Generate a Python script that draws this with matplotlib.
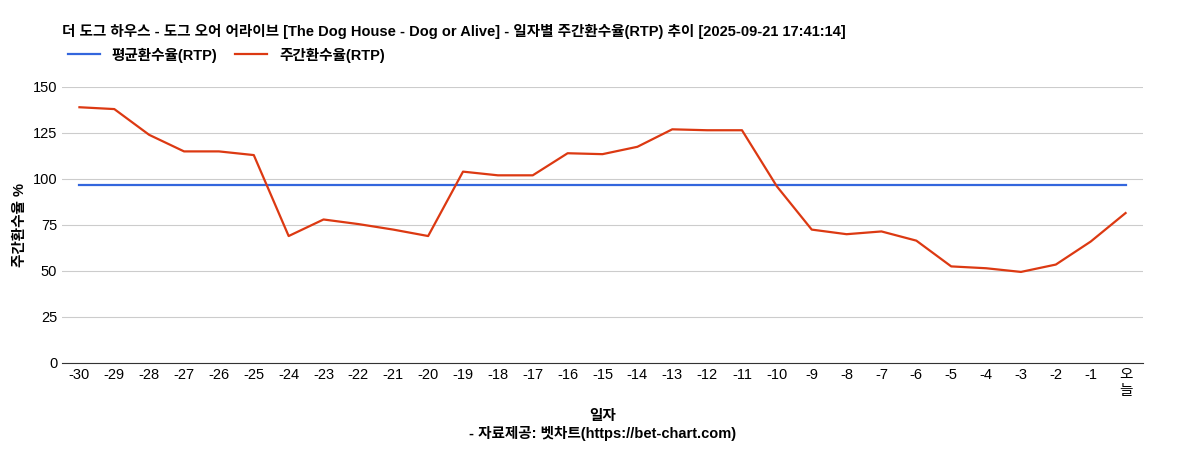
import matplotlib
matplotlib.use("Agg")
import matplotlib.pyplot as plt

plt.rcParams['font.family'] = ['Liberation Sans', 'Noto Sans CJK KR', 'DejaVu Sans']

labels = [str(i) for i in range(-30, 0)] + ["오\n늘"]
weekly = [139, 138, 124, 115, 115, 113, 69, 78, 75.5, 72.5, 69, 104, 102, 102, 114, 113.5,
          117.5, 127, 126.5, 126.5, 96, 72.5, 70, 71.5, 66.5, 52.5, 51.5, 49.5, 53.5, 66, 81.5]
avg = [96.5] * len(labels)

fig = plt.figure(figsize=(12.04, 4.5), dpi=100)
ax = fig.add_axes([62/1204, 1-363/450, (1143-62)/1204, (363-87)/450])
x = list(range(len(labels)))
ax.plot(x, avg, color='#3366dd', lw=1.6, label='평균환수율(RTP)')
ax.plot(x, weekly, color='#dc3912', lw=1.6, label='주간환수율(RTP)')
ax.set_xlim(-0.5, len(labels) - 0.5)
ax.set_ylim(0, 150)
ax.set_yticks(range(0, 151, 25))
ax.set_xticks(x)
ax.set_xticklabels(labels, fontsize=10.5)
ax.tick_params(axis='y', labelsize=10.5, length=0)
ax.tick_params(axis='x', length=0)
ax.grid(axis='y', color='#cccccc', lw=0.8)
for s in ['top', 'right', 'left']:
    ax.spines[s].set_visible(False)
ax.spines['bottom'].set_color('#333333')
ax.set_ylabel('주간환수율 %', fontsize=10.5, fontweight='bold')
ax.set_xlabel('일자\n- 자료제공: 벳차트(https://bet-chart.com)', fontsize=10.5, fontweight='bold', labelpad=8)
fig.text(62/1204, 1-31/450, '더 도그 하우스 - 도그 오어 어라이브 [The Dog House - Dog or Alive] - 일자별 주간환수율(RTP) 추이 [2025-09-21 17:41:14]',
         fontsize=10.5, fontweight='bold', va='center')
fig.legend(loc='center left', bbox_to_anchor=(55/1204, 1-55/450), ncol=2, frameon=False,
           prop={'size': 10.5, 'weight': 'bold'}, handlelength=2.2, columnspacing=1.2)
fig.savefig('out.png', dpi=100)
